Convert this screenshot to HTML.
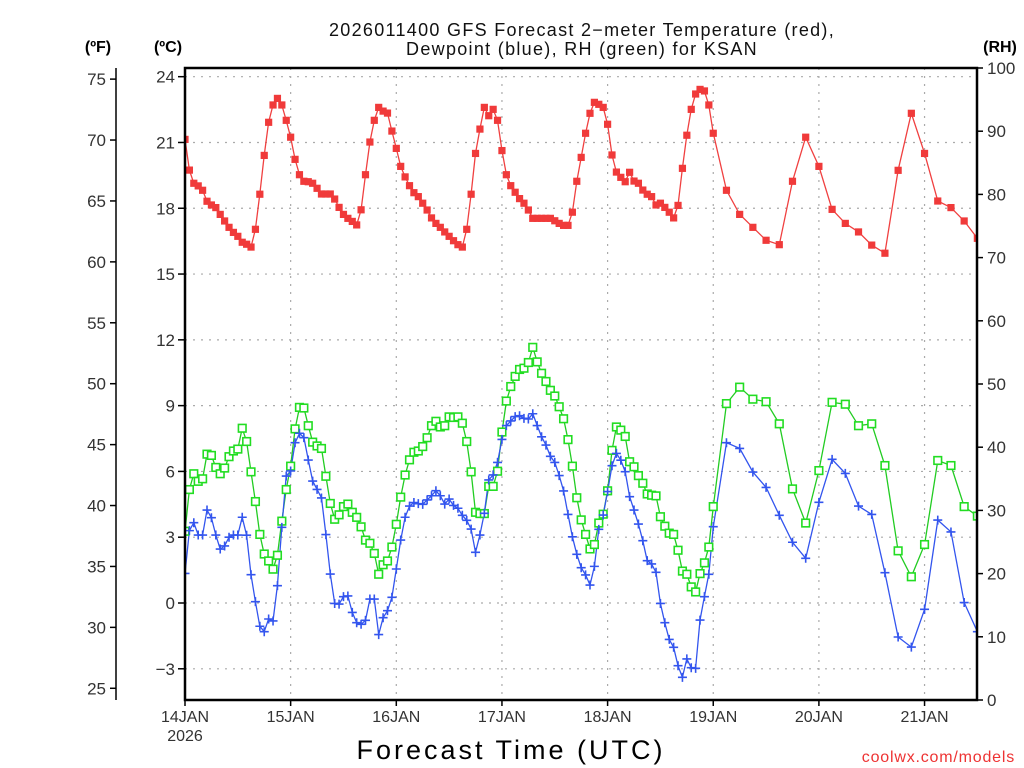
<!DOCTYPE html>
<html><head><meta charset="utf-8">
<style>
html,body{margin:0;padding:0;background:#fff;}
svg{display:block;font-family:"Liberation Sans",sans-serif;}
</style></head>
<body>
<svg id="chart" width="1024" height="768" viewBox="0 0 1024 768">
<defs><clipPath id="plotclip"><rect x="185" y="68" width="792" height="632"/></clipPath></defs>
<text x="582" y="36" font-size="18" letter-spacing="1.3" text-anchor="middle" fill="#111">2026011400 GFS Forecast 2−meter Temperature (red),</text>
<text x="582" y="55" font-size="18" letter-spacing="1.3" text-anchor="middle" fill="#111">Dewpoint (blue), RH (green) for KSAN</text>
<text x="98" y="52" font-size="16" font-weight="bold" text-anchor="middle">(ºF)</text>
<text x="168" y="52" font-size="16" font-weight="bold" text-anchor="middle">(ºC)</text>
<text x="1000" y="52" font-size="16" font-weight="bold" text-anchor="middle">(RH)</text>
<g id="grid"></g>
<g id="axes"></g>
<g id="series" clip-path="url(#plotclip)"></g>
<rect x="185" y="68" width="792" height="632" fill="none" stroke="#000" stroke-width="2.5"/>
<text x="511" y="759" font-size="27" text-anchor="middle" fill="#000" letter-spacing="3">Forecast Time (UTC)</text>
<text x="1015" y="762" font-size="16" text-anchor="end" fill="#ee3333" letter-spacing="0.8">coolwx.com/models</text>
</svg>
<script>
const hours = [0,1,2,3,4,5,6,7,8,9,10,11,12,13,14,15,16,17,18,19,20,21,22,23,24,25,26,27,28,29,30,31,32,33,34,35,36,37,38,39,40,41,42,43,44,45,46,47,48,49,50,51,52,53,54,55,56,57,58,59,60,61,62,63,64,65,66,67,68,69,70,71,72,73,74,75,76,77,78,79,80,81,82,83,84,85,86,87,88,89,90,91,92,93,94,95,96,97,98,99,100,101,102,103,104,105,106,107,108,109,110,111,112,113,114,115,116,117,118,119,120,123,126,129,132,135,138,141,144,147,150,153,156,159,162,165,168,171,174,177,180];
const tempC = [21.14,19.74,19.14,19.02,18.82,18.32,18.15,18.03,17.72,17.42,17.13,16.9,16.72,16.45,16.36,16.23,17.04,18.64,20.41,21.92,22.71,23.01,22.71,22.01,21.24,20.23,19.53,19.23,19.21,19.14,18.91,18.65,18.65,18.65,18.42,18.04,17.72,17.54,17.40,17.24,17.93,19.53,21.02,22.01,22.60,22.43,22.34,21.52,20.73,19.91,19.43,19.03,
18.71,18.53,18.23,17.92,17.56,17.31,17.13,16.92,16.72,16.52,16.34,16.23,17.04,18.64,20.5,21.61,22.60,22.22,22.51,22.01,20.63,19.53,19.03,18.73,18.44,18.23,17.92,17.54,17.54,17.54,17.54,17.54,17.43,17.31,17.22,17.22,17.82,19.23,20.32,21.42,22.33,22.83,22.74,22.60,21.83,20.43,19.65,19.41,19.21,
19.64,19.24,19.14,18.83,18.64,18.53,18.15,18.23,18.04,17.82,17.56,18.13,19.82,21.33,22.51,23.21,23.42,23.35,22.71,21.42,
18.82,17.72,17.13,16.54,16.34,19.23,21.24,19.91,17.95,17.31,16.92,16.32,15.95,19.73,22.33,20.5,18.33,18.03,17.42,16.63];
const dewC = [1.35,3.30,3.66,3.10,3.10,4.24,3.89,3.10,2.46,2.60,3.0,3.10,3.10,3.91,3.09,1.29,0.06,-1.06,-1.31,-0.73,-0.82,0.79,3.45,5.79,6.02,7.31,7.74,7.54,6.52,5.56,5.18,4.79,3.12,1.32,-0.02,-0.05,0.29,0.32,-0.43,-0.90,-0.97,-0.79,0.18,0.18,-1.44,-0.67,-0.35,0.26,1.55,2.87,3.91,4.42,
4.58,4.53,4.50,4.70,4.89,5.12,4.89,4.51,4.74,4.45,4.32,4.0,3.77,3.37,2.31,3.10,4.09,5.61,5.84,6.41,7.46,8.09,8.30,8.50,8.54,8.42,8.39,8.63,8.09,7.58,7.20,6.69,6.41,5.81,5.11,4.04,3.02,2.22,1.61,1.28,0.82,1.67,3.36,4.01,5.08,6.26,6.82,6.51,5.99,
4.85,4.24,3.60,2.84,1.93,1.78,1.40,-0.02,-0.90,-1.66,-2.02,-2.86,-3.39,-2.55,-2.95,-2.98,-0.78,0.29,1.31,3.48,
7.31,7.05,5.97,5.27,4.0,2.77,2.04,4.59,6.55,5.91,4.42,4.04,1.38,-1.55,-2.01,-0.29,3.78,3.24,0.02,-1.31];
const rhPct = [26.7,33.3,35.8,34.6,35.0,38.9,38.7,36.8,35.8,36.7,38.5,39.4,39.7,43.0,40.9,36.1,31.4,26.2,23.1,22.0,20.7,22.9,28.3,33.3,37.0,42.9,46.3,46.2,43.4,40.8,40.2,39.8,35.4,31.1,28.6,29.3,30.6,31.0,29.7,28.9,27.4,25.3,24.8,23.2,19.9,21.4,22.0,24.2,27.8,32.1,35.6,38.0,
39.2,39.4,40.1,41.5,43.4,44.1,43.2,43.4,44.8,44.7,44.8,43.8,40.9,36.1,29.7,29.5,29.5,33.8,33.8,36.2,42.4,47.3,49.6,51.2,52.3,52.5,53.4,55.8,53.5,51.7,50.4,49.0,48.1,46.4,44.5,41.2,37.0,32.0,28.5,26.2,23.9,24.6,28.0,29.4,33.1,39.5,43.2,42.7,41.7,
37.7,36.9,35.5,34.3,32.6,32.4,32.3,29.0,27.5,26.4,26.2,23.7,20.4,19.9,17.9,17.1,20.0,21.7,24.2,30.6,
46.9,49.5,47.6,47.2,43.7,33.4,28.0,36.3,47.1,46.8,43.4,43.7,37.1,23.6,19.5,24.6,37.9,37.1,30.6,29.1];
const dayLabels = ["14JAN","15JAN","16JAN","17JAN","18JAN","19JAN","20JAN","21JAN"];
const cTicks = [-3,0,3,6,9,12,15,18,21,24];
const fTicks = [25,30,35,40,45,50,55,60,65,70,75];
const rhTicks = [0,10,20,30,40,50,60,70,80,90,100];

const NS = "http://www.w3.org/2000/svg";
const X0 = 185, X1 = 977, Y0 = 68, Y1 = 700;
const pxPerHour = 105.65/24;
const xH = h => X0 + h*pxPerHour;
const yC = c => 603 - c*21.93;
const yF = f => yC((f-32)*5/9);
const yRH = r => Y1 - r*(Y1-Y0)/100;
function mk(tag, attrs, parent){const e=document.createElementNS(NS,tag);for(const k in attrs)e.setAttribute(k,attrs[k]);parent.appendChild(e);return e;}

const grid = document.getElementById('grid');
const axes = document.getElementById('axes');
const series = document.getElementById('series');

cTicks.forEach(c=>{
  const y=yC(c);
  const g=mk('line',{x1:X0,x2:X1,y1:y,y2:y,stroke:'#aaa','stroke-width':1.2,'stroke-dasharray':'2,6'},grid);
  
  
  const t=mk('line',{x1:X0-7,x2:X0,y1:y,y2:y,stroke:'#000','stroke-width':1.5},axes);
  
  
  const l=mk('text',{x:X0-10,y:y+6,'font-size':17,'text-anchor':'end',fill:'#333'},axes);
  l.textContent = c<0 ? '−'+Math.abs(c) : String(c);
  
  
});
dayLabels.forEach((d,i)=>{
  const x=xH(i*24);
  if(i>0){const g=mk('line',{x1:x,x2:x,y1:Y0,y2:Y1,stroke:'#aaa','stroke-width':1.2,'stroke-dasharray':'2,6'},grid);
  
  }
  const t=mk('line',{x1:x,x2:x,y1:Y1,y2:Y1+6,stroke:'#000','stroke-width':1.5},axes);
  
  
  const l=mk('text',{x:x,y:Y1+22,'font-size':16,'text-anchor':'middle',fill:'#333'},axes);
  l.textContent=d;
  
  
});
const yr=mk('text',{x:X0,y:Y1+41,'font-size':16,'text-anchor':'middle',fill:'#333'},axes);
yr.textContent='2026';



const fl=mk('line',{x1:116,x2:116,y1:Y0,y2:Y1,stroke:'#000','stroke-width':1.5},axes);


fTicks.forEach(f=>{
  const y=yF(f);
  const t=mk('line',{x1:110,x2:116,y1:y,y2:y,stroke:'#000','stroke-width':1.5},axes);
  
  
  const l=mk('text',{x:106,y:y+6,'font-size':17,'text-anchor':'end',fill:'#333'},axes);
  l.textContent=String(f);
  
  
});
rhTicks.forEach(r=>{
  const y=yRH(r);
  const t=mk('line',{x1:X1,x2:X1+6,y1:y,y2:y,stroke:'#000','stroke-width':1.5},axes);
  
  
  const l=mk('text',{x:987,y:y+6,'font-size':17,'text-anchor':'start',fill:'#333'},axes);
  l.textContent=String(r);
  
  
});

function drawLine(vals, yf, color, name){
  const pts = vals.map((v,i)=>xH(hours[i]).toFixed(1)+','+yf(v).toFixed(1)).join(' ');
  const p=mk('polyline',{points:pts,fill:'none',stroke:color,'stroke-width':1.3},series);
  
  
}
drawLine(rhPct,yRH,'#22cc22','rh-line');
drawLine(dewC,yC,'#3355ee','dewpoint-line');
drawLine(tempC,yC,'#f04040','temperature-line');

rhPct.forEach((v,i)=>{
  const x=xH(hours[i]), y=yRH(v);
  const m=mk('rect',{x:x-3.8,y:y-3.8,width:7.6,height:7.6,fill:'#fff',stroke:'#22dd22','stroke-width':1.6},series);
  
  
});
dewC.forEach((v,i)=>{
  const x=xH(hours[i]), y=yC(v);
  const m=mk('path',{d:`M${x-4.5},${y}H${x+4.5}M${x},${y-4.5}V${y+4.5}`,stroke:'#3355ee','stroke-width':1.6,fill:'none'},series);
  
  
});
tempC.forEach((v,i)=>{
  const x=xH(hours[i]), y=yC(v);
  const m=mk('rect',{x:x-3.6,y:y-3.6,width:7.2,height:7.2,fill:'#f03a3a'},series);
  
  
});
</script>
</body></html>
